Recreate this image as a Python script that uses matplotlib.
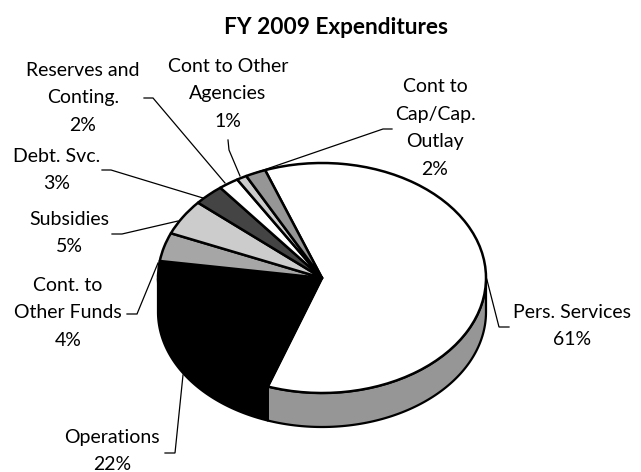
import numpy as np
import matplotlib
matplotlib.use("Agg")
import matplotlib.pyplot as plt

plt.rcParams["font.family"] = ["Lato", "DejaVu Sans"]

# FY 2009 expenditure shares, clockwise from the top of the pie
categories = ["Pers. Services", "Operations", "Cont. to\nOther Funds", "Subsidies",
              "Debt. Svc.", "Reserves and\nConting.", "Cont to Other\nAgencies",
              "Cont to\nCap/Cap.\nOutlay"]
shares = [61, 22, 4, 5, 3, 2, 1, 2]
top_colors = ["#FFFFFF", "#000000", "#A6A6A6", "#CCCCCC", "#444444", "#FFFFFF", "#CCCCCC", "#969696"]
wall_colors = ["#969696", "#000000", "#A6A6A6", "#CCCCCC", "#444444", "#FFFFFF", "#CCCCCC", "#969696"]

W, H = 641, 472
CX, CY, RX, RY, DEPTH = 322.0, 278.0, 164.0, 115.0, 34.0
START = 110.3

fig = plt.figure(figsize=(W / 100, H / 100), dpi=100, facecolor="white")
ax = fig.add_axes([0, 0, 1, 1])

# Unit-circle pie squeezed into an ellipse through the axis limits
pie_wedges, _ = ax.pie(shares, colors=top_colors, startangle=START, counterclock=False,
                       wedgeprops=dict(edgecolor="black", linewidth=1.8, joinstyle="round"))
ax.set_aspect("auto")
ax.set_xlim(-CX / RX, (W - CX) / RX)
ax.set_ylim(-(H - CY) / RY, CY / RY)
ax.axis("off")

def px(x, y):
    return ((x - CX) / RX, (CY - y) / RY)

# Side wall: extrude the part of each slice's rim that faces the viewer
drop = DEPTH / RY
edges = START - 3.6 * np.concatenate([[0], np.cumsum(shares)])
for i, color in enumerate(wall_colors):
    hi, lo = edges[i], edges[i + 1]
    t = np.radians(np.linspace(lo, hi, 200))
    t = t[np.sin(t) <= 0]
    if t.size == 0:
        continue
    xs = np.cos(t)
    ys = np.sin(t)
    ax.fill(np.r_[xs, xs[::-1]], np.r_[ys, ys[::-1] - drop], facecolor=color,
            edgecolor="black", linewidth=1.6, zorder=0.5, joinstyle="round")

# Leader lines run from each label to the rim of its slice
leaders = [
    [(487, 280), (499, 327), (509, 327)],
    [(165, 453), (175, 453), (183, 375)],
    [(127, 314), (137, 314), (158, 263)],
    [(112, 234), (122, 234), (178, 221)],
    [(102, 170), (111, 170), (203, 198)],
    [(144, 98), (153, 98), (225, 183)],
    [(228, 140), (229, 150), (240, 176)],
    [(392, 129), (383, 129), (252, 174)],
]
for path in leaders:
    pts = [px(*p) for p in path]
    ax.plot(*zip(*pts), color="black", lw=0.9, zorder=3, solid_joinstyle="miter")

# Label anchors: horizontal centre and vertical centre of each text block
anchors = [(572, 326), (112, 451), (68, 313), (69, 233), (57, 170),
           (83, 98), (228, 94), (435, 128)]
for cat, val, (x, y) in zip(categories, shares, anchors):
    ax.text(*px(x, y), f"{cat}\n{val}%", ha="center", va="center", fontsize=14,
            linespacing=1.75, color="black", zorder=4)

ax.text(*px(336, 27), "FY 2009 Expenditures", ha="center", va="center",
        fontsize=16.3, fontweight="bold", color="black")

fig.savefig("out.png", dpi=100, facecolor="white")
